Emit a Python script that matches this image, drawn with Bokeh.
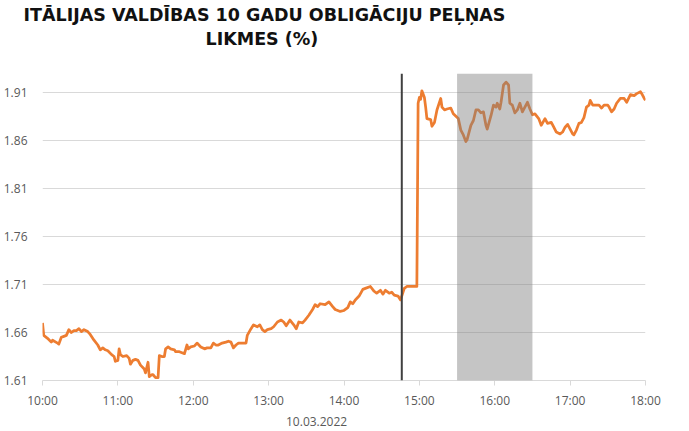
from bokeh.plotting import figure
from bokeh.models import Range1d, FixedTicker, Span, BoxAnnotation, Title, PrintfTickFormatter, ColumnDataSource
from bokeh.embed import file_html
from bokeh.resources import INLINE

# --- data -------------------------------------------------------------
minutes_after_10 = [
    0, 1, 4, 7, 8, 12, 13, 15, 17, 19, 21, 23, 25, 27, 29, 31, 33, 36, 38, 41,
    44, 46, 48, 50, 52, 55, 57, 58, 60, 61, 62, 64, 67, 69, 70, 72, 74, 76, 78, 81,
    82, 84, 85, 87, 88, 90, 92, 93, 95, 97, 98, 100, 102, 105, 106, 109, 111, 113, 115, 116,
    118, 121, 123, 126, 129, 131, 134, 136, 138, 140, 143, 146, 148, 150, 152, 154, 156, 159, 162, 163,
    166, 168, 171, 173, 175, 177, 179, 182, 184, 187, 190, 192, 194, 197, 200, 202, 204, 207, 209, 212,
    215, 217, 219, 221, 225, 228, 231, 233, 237, 240, 243, 245, 247, 249, 252, 255, 257, 261, 264, 266,
    269, 271, 273, 276, 278, 280, 283, 285, 288, 290, 298, 299, 300, 301, 302, 304, 305, 306, 309, 310,
    312, 314, 317, 318, 320, 322, 325, 327, 331, 333, 335, 337, 338, 341, 343, 345, 347, 349, 351, 353,
    354, 357, 359, 361, 362, 364, 365, 367, 369, 371, 372, 374, 376, 378, 380, 382, 384, 386, 388, 390,
    392, 395, 397, 400, 402, 405, 407, 409, 412, 414, 416, 418, 420, 422, 423, 425, 427, 429, 431, 433,
    435, 436, 438, 441, 443, 445, 447, 450, 451, 453, 455, 457, 460, 463, 465, 468, 471, 473, 476, 477,
    479, 480,
]
yield_pct = [
    1.670, 1.657, 1.654, 1.650, 1.652, 1.649, 1.648, 1.655, 1.656, 1.657, 1.663, 1.660, 1.662, 1.662, 1.664, 1.661, 1.663, 1.661, 1.658, 1.652,
    1.647, 1.642, 1.644, 1.642, 1.641, 1.637, 1.635, 1.630, 1.631, 1.643, 1.637, 1.635, 1.636, 1.633, 1.627, 1.631, 1.632, 1.631, 1.626, 1.622,
    1.618, 1.629, 1.614, 1.616, 1.616, 1.613, 1.613, 1.636, 1.635, 1.635, 1.643, 1.645, 1.643, 1.642, 1.640, 1.640, 1.639, 1.638, 1.647, 1.643,
    1.645, 1.646, 1.649, 1.645, 1.643, 1.644, 1.644, 1.649, 1.647, 1.647, 1.649, 1.650, 1.651, 1.650, 1.644, 1.647, 1.649, 1.649, 1.649, 1.657,
    1.664, 1.668, 1.666, 1.668, 1.663, 1.661, 1.663, 1.664, 1.666, 1.671, 1.673, 1.671, 1.667, 1.673, 1.668, 1.664, 1.671, 1.670, 1.673, 1.678,
    1.684, 1.689, 1.687, 1.690, 1.689, 1.692, 1.687, 1.684, 1.682, 1.683, 1.686, 1.692, 1.690, 1.694, 1.698, 1.705, 1.706, 1.708, 1.703, 1.701,
    1.704, 1.700, 1.704, 1.701, 1.702, 1.699, 1.698, 1.694, 1.706, 1.708, 1.708, 1.899, 1.905, 1.903, 1.912, 1.905, 1.895, 1.883, 1.882, 1.875,
    1.879, 1.892, 1.904, 1.895, 1.892, 1.893, 1.894, 1.888, 1.883, 1.871, 1.866, 1.859, 1.861, 1.876, 1.881, 1.892, 1.892, 1.889, 1.890, 1.876,
    1.872, 1.886, 1.897, 1.895, 1.899, 1.893, 1.900, 1.918, 1.921, 1.918, 1.899, 1.897, 1.889, 1.892, 1.899, 1.890, 1.895, 1.900, 1.893, 1.887,
    1.888, 1.883, 1.876, 1.883, 1.878, 1.879, 1.874, 1.869, 1.867, 1.869, 1.874, 1.877, 1.872, 1.867, 1.866, 1.871, 1.878, 1.879, 1.884, 1.895,
    1.897, 1.902, 1.897, 1.897, 1.897, 1.894, 1.897, 1.897, 1.895, 1.890, 1.893, 1.899, 1.904, 1.904, 1.900, 1.908, 1.907, 1.909, 1.911, 1.909,
    1.904, 1.902,
]
x_ticks = [10, 11, 12, 13, 14, 15, 16, 17, 18]
x_tick_labels = ["10:00", "11:00", "12:00", "13:00", "14:00", "15:00", "16:00", "17:00", "18:00"]
y_ticks = [1.61, 1.66, 1.71, 1.76, 1.81, 1.86, 1.91]
marker_time_h = 14 + 46 / 60        # vertical line
band_start_h, band_end_h = 15.5, 16.5  # shaded period
date_text = "10.03.2022"
title_lines = ["ITĀLIJAS VALDĪBAS 10 GADU OBLIGĀCIJU PEĻŅAS", "LIKMES (%)"]

hours = [10 + m / 60 for m in minutes_after_10]
src = ColumnDataSource(dict(t=hours, y=yield_pct))

# --- figure -----------------------------------------------------------
p = figure(width=689, height=431, x_range=Range1d(10, 18), y_range=Range1d(1.61, 1.93),
           output_backend="svg", toolbar_location=None, title=None,
           min_border_left=42, min_border_right=44, min_border_top=73, min_border_bottom=51)
p.outline_line_color = None
p.background_fill_color = "white"
p.border_fill_color = "white"

FONT = "Open Sans"
LABEL_COLOR = "#595959"

xa = p.xaxis[0]
xa.ticker = FixedTicker(ticks=x_ticks)
xa.major_label_overrides = {t: lab for t, lab in zip(x_ticks, x_tick_labels)}
xa.axis_line_color = "#d9d9d9"
xa.major_tick_line_color = "#d9d9d9"
xa.major_tick_out = 5
xa.major_tick_in = 0
xa.minor_tick_line_color = None
xa.major_label_standoff = 6
xa.major_label_text_font = FONT
xa.major_label_text_font_size = "12px"
xa.major_label_text_color = LABEL_COLOR

ya = p.yaxis[0]
ya.ticker = FixedTicker(ticks=y_ticks)
ya.formatter = PrintfTickFormatter(format="%.2f")
ya.axis_line_color = None
ya.major_tick_line_color = None
ya.minor_tick_line_color = None
ya.major_tick_out = 0
ya.major_tick_in = 0
ya.major_label_standoff = 15
ya.major_label_text_font = FONT
ya.major_label_text_font_size = "12px"
ya.major_label_text_color = LABEL_COLOR

p.xgrid.grid_line_color = None
p.ygrid.grid_line_color = "#d9d9d9"
p.ygrid.grid_line_width = 1

p.line("t", "y", source=src, line_color="#ED7D31", line_width=2.75, line_join="round")

p.add_layout(Span(location=marker_time_h, dimension="height", line_color="#404040", line_width=2))
p.add_layout(BoxAnnotation(left=band_start_h, right=band_end_h, fill_color="#808080",
                           fill_alpha=0.46, line_color=None))

# titles: a blank spacer panel next to the frame, then line 2, then line 1
TITLE_KW = dict(align="left", text_font="DejaVu Sans", text_font_style="bold",
                text_font_size="17.5px", text_color="#111111")
p.add_layout(Title(text=" ", align="left", standoff=20, text_font_size="1px"), "above")
p.add_layout(Title(text=title_lines[1], offset=163, standoff=4, **TITLE_KW), "above")
p.add_layout(Title(text=title_lines[0], offset=-19, standoff=0, **TITLE_KW), "above")
# date under the time axis
p.add_layout(Title(text=date_text, align="left", offset=243.5, standoff=6,
                   text_font=FONT, text_font_style="normal", text_font_size="12px",
                   text_color=LABEL_COLOR), "below")

open("out.html", "w").write(file_html(p, INLINE))
